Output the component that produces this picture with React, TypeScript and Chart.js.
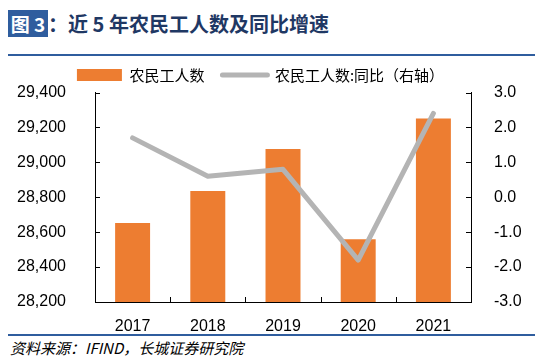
import React, { useEffect, useRef } from "react";
import { Chart, registerables } from "chart.js";

Chart.register(...registerables);

const years = ["2017", "2018", "2019", "2020", "2021"];
const workers = [28652, 28836, 29077, 28560, 29251];
const yoy = [1.7, 0.6, 0.8, -1.8, 2.4];
const leftMin = 28200;
const leftMax = 29400;
const leftStep = 200;
const rightMin = -3;
const rightMax = 3;
const rightStep = 1;
const barLabel = "农民工人数";
const lineLabel = "农民工人数:同比（右轴）";

const ORANGE = "#ED7D31";
const GRAY = "#B4B4B4";
const BLUE = "#2F5D9E";
const NUM_FONT = "'Liberation Sans', Arial, sans-serif";
const CJK_FONT = "'Noto Sans CJK SC', 'Liberation Sans', sans-serif";

const innerTicks = {
  id: "innerTicks",
  afterDraw(chart: any) {
    const ctx = chart.ctx;
    const area = chart.chartArea;
    const len = 5;
    ctx.save();
    ctx.strokeStyle = "#000";
    ctx.lineWidth = 1;
    ctx.beginPath();
    const yl = chart.scales.y;
    yl.ticks.forEach((_: any, i: number) => {
      const p = Math.round(yl.getPixelForTick(i)) + 0.5;
      ctx.moveTo(area.left, p);
      ctx.lineTo(area.left + len, p);
    });
    const yr = chart.scales.y1;
    yr.ticks.forEach((_: any, i: number) => {
      const p = Math.round(yr.getPixelForTick(i)) + 0.5;
      ctx.moveTo(area.right, p);
      ctx.lineTo(area.right - len, p);
    });
    const xs = chart.scales.x;
    for (let i = 0; i < xs.ticks.length - 1; i++) {
      const p = Math.round((xs.getPixelForTick(i) + xs.getPixelForTick(i + 1)) / 2) + 0.5;
      ctx.moveTo(p, area.bottom);
      ctx.lineTo(p, area.bottom - len);
    }
    ctx.stroke();
    ctx.restore();
  },
};

export default function App() {
  const ref = useRef<HTMLCanvasElement>(null);
  useEffect(() => {
    const chart = new Chart(ref.current as HTMLCanvasElement, {
      type: "bar",
      data: {
        labels: years,
        datasets: [
          {
            type: "bar",
            label: barLabel,
            data: workers,
            backgroundColor: ORANGE,
            borderWidth: 0,
            yAxisID: "y",
            order: 1,
            categoryPercentage: 1,
            barPercentage: 0.465,
          },
          {
            type: "line",
            label: lineLabel,
            data: yoy,
            borderColor: GRAY,
            backgroundColor: GRAY,
            borderWidth: 5,
            pointRadius: 0,
            borderJoinStyle: "round",
            borderCapStyle: "round",
            tension: 0,
            yAxisID: "y1",
            order: 0,
          },
        ] as any,
      },
      options: {
        responsive: false,
        animation: false,
        devicePixelRatio: 1,
        layout: { padding: { top: -8.5, right: 10, left: -12, bottom: 0 } },
        plugins: {
          tooltip: { enabled: false },
          legend: {
            display: true,
            position: "top",
            labels: {
              usePointStyle: true,
              pointStyleWidth: 45,
              boxHeight: 12,
              padding: 18,
              color: "#000",
              font: { family: CJK_FONT, size: 15 },
              generateLabels: () => [
                {
                  text: barLabel,
                  fillStyle: ORANGE,
                  strokeStyle: ORANGE,
                  lineWidth: 0,
                  pointStyle: "rect",
                  datasetIndex: 0,
                  hidden: false,
                } as any,
                {
                  text: lineLabel,
                  fillStyle: GRAY,
                  strokeStyle: GRAY,
                  lineWidth: 5,
                  lineCap: "round",
                  pointStyle: "line",
                  datasetIndex: 1,
                  hidden: false,
                } as any,
              ],
            },
          },
        },
        scales: {
          x: {
            grid: { display: false },
            border: { display: true, color: "#000", width: 1 },
            ticks: { color: "#000", font: { family: NUM_FONT, size: 16 }, padding: 7 },
            afterFit: (s: any) => {
              s.height = 31;
            },
          },
          y: {
            position: "left",
            min: leftMin,
            max: leftMax,
            grid: { display: false },
            border: { display: true, color: "#000", width: 1 },
            ticks: {
              stepSize: leftStep,
              color: "#000",
              padding: 21,
              font: { family: NUM_FONT, size: 16 },
              callback: (v: any) => Number(v).toLocaleString("en-US"),
            },
            afterFit: (s: any) => {
              s.width = 99;
            },
          },
          y1: {
            position: "right",
            min: rightMin,
            max: rightMax,
            grid: { display: false },
            border: { display: true, color: "#000", width: 1 },
            ticks: {
              stepSize: rightStep,
              color: "#000",
              padding: 15,
              font: { family: NUM_FONT, size: 16 },
              callback: (v: any) => Number(v).toFixed(1),
            },
            afterFit: (s: any) => {
              s.width = 54;
            },
          },
        },
      },
      plugins: [innerTicks],
    });
    return () => chart.destroy();
  }, []);

  return (
    <div
      style={{
        position: "absolute",
        left: 0,
        top: 0,
        width: 550,
        height: 361,
        background: "#fff",
        overflow: "hidden",
      }}
    >
      <div
        style={{
          position: "absolute",
          left: 8,
          top: 10,
          width: 40,
          height: 27,
          background: BLUE,
          color: "#fff",
          fontFamily: CJK_FONT,
          fontWeight: 700,
          fontSize: 19,
          lineHeight: "27px",
          textAlign: "center",
          whiteSpace: "nowrap",
        }}
      >
        图 3
      </div>
      <div
        style={{
          position: "absolute",
          left: 48,
          top: 10,
          height: 27,
          color: "#1F3864",
          fontFamily: CJK_FONT,
          fontWeight: 700,
          fontSize: 20,
          lineHeight: "27px",
          whiteSpace: "nowrap",
        }}
      >
        ：近 5 年农民工人数及同比增速
      </div>
      <div style={{ position: "absolute", left: 8, top: 54, width: 527, height: 2, background: BLUE }} />
      <div style={{ position: "absolute", left: 8, top: 58, width: 527, height: 275 }}>
        <canvas ref={ref} width={527} height={275} style={{ display: "block" }} />
      </div>
      <div style={{ position: "absolute", left: 8, top: 334, width: 527, height: 2, background: BLUE }} />
      <div
        style={{
          position: "absolute",
          left: 10,
          top: 338,
          color: "#000",
          fontFamily: CJK_FONT,
          fontStyle: "italic",
          fontSize: 15,
          lineHeight: "20px",
          whiteSpace: "nowrap",
        }}
      >
        资料来源：IFIND，长城证券研究院
      </div>
    </div>
  );
}
